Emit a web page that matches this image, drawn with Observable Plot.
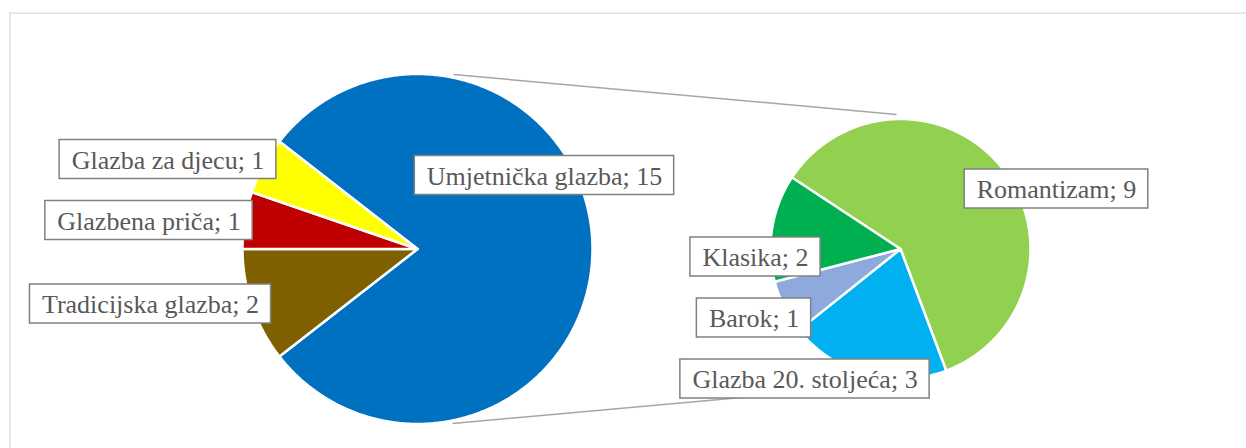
<!DOCTYPE html>
<html><head><meta charset="utf-8">
<script src="https://cdn.jsdelivr.net/npm/d3@7"></script>
<script src="https://cdn.jsdelivr.net/npm/@observablehq/plot@0.6"></script>
<style>
html,body{margin:0;padding:0;background:#fff;overflow:hidden}
#chart svg, #chart svg text { font-family: "Liberation Serif", "Times New Roman", Tinos, "DejaVu Serif", serif !important; }
</style>
</head><body><div id="chart"></div>
<script>
// ---- data ----
const mainCategories = ["Umjetnička glazba", "Tradicijska glazba", "Glazbena priča", "Glazba za djecu"];
const mainValues = [15, 2, 1, 1];
const subCategories = ["Romantizam", "Glazba 20. stoljeća", "Barok", "Klasika"];
const subValues = [9, 3, 1, 2];

// ---- styles ----
const mainColors = ["#0070C0", "#7F6000", "#C00000", "#FFFF00"];
const subColors = ["#92D050", "#00B0F0", "#8EA9DB", "#00B050"];
const FONT = "\"Liberation Serif\", \"Times New Roman\", \"DejaVu Serif\", serif";
const FONT_SIZE = 26;

// ---- layout ----
const W = 1246, H = 448;
const mainPie = {cx: 417, cy: 248.5, r: 175};
const subPie = {cx: 900, cy: 248.5, r: 130, startDeg: 303.4};
// "other" group (everything but the first category) is centred on the 9 o'clock direction
const mainTotal = d3.sum(mainValues);
const otherShare = (mainTotal - mainValues[0]) / mainTotal;
mainPie.startDeg = 270 + otherShare * 180;

// label centres (Excel places these manually)
const mainLabelPos = [[544, 175], [150, 303.5], [148.5, 220], [167.5, 159]];
const subLabelPos = [[1056, 188.5], [804.5, 378.5], [753.5, 317.5], [755, 256.5]];
const connectors = [
  {x1: 453, y1: 74, x2: 896, y2: 114},
  {x1: 452, y1: 423, x2: 896, y2: 383}
];

const rad = d => d * Math.PI / 180;

function slices(cats, vals, colors, pie) {
  const arcs = d3.pie().sort(null).value(d => d.value)
    .startAngle(rad(pie.startDeg)).endAngle(rad(pie.startDeg + 360))(
      cats.map((c, i) => ({key: c, value: vals[i], color: colors[i]})));
  return arcs.map(a => {
    const n = Math.max(2, Math.ceil((a.endAngle - a.startAngle) / rad(0.5)));
    const pts = [{x: pie.cx, y: pie.cy}];
    for (let k = 0; k <= n; k++) {
      const t = a.startAngle + (a.endAngle - a.startAngle) * k / n;
      pts.push({x: pie.cx + pie.r * Math.sin(t), y: pie.cy - pie.r * Math.cos(t)});
    }
    pts.push({x: pie.cx, y: pie.cy});
    return {key: a.data.key, color: a.data.color, points: pts};
  });
}

const mainSlices = slices(mainCategories, mainValues, mainColors, mainPie);
const subSlices = slices(subCategories, subValues, subColors, subPie);

const ctx = document.createElement("canvas").getContext("2d");
ctx.font = `${FONT_SIZE}px ${FONT}`;
const PAD = 12, BOX_H = 39;
function labels(cats, vals, pos) {
  return cats.map((c, i) => {
    const text = `${c}; ${vals[i]}`;
    const w = ctx.measureText(text).width;
    const [cx, cy] = pos[i];
    return {text, cx, cy, x1: cx - w / 2 - PAD, x2: cx + w / 2 + PAD, y1: cy - BOX_H / 2, y2: cy + BOX_H / 2};
  });
}
const allLabels = [...labels(mainCategories, mainValues, mainLabelPos), ...labels(subCategories, subValues, subLabelPos)];

const chart = Plot.plot({
  width: W, height: H, margin: 0,
  style: {fontFamily: FONT, background: "white"},
  x: {type: "identity", axis: null},
  y: {type: "identity", axis: null},
  marks: [
    Plot.ruleX([9.5], {y1: 12, y2: H, stroke: "#d9d9d9", strokeWidth: 1.25}),
    Plot.ruleY([12.5], {x1: 9, x2: W, stroke: "#d9d9d9", strokeWidth: 1.25}),
    Plot.link(connectors, {x1: "x1", y1: "y1", x2: "x2", y2: "y2", stroke: "#a6a6a6", strokeWidth: 1.5}),
    ...[...mainSlices, ...subSlices].map(s => Plot.line(s.points, {
      x: "x", y: "y", fill: s.color, stroke: "white", strokeWidth: 2.5,
      strokeLinejoin: "round", strokeLinecap: "round"
    })),
    Plot.rect(allLabels, {x1: "x1", x2: "x2", y1: "y1", y2: "y2", fill: "white", stroke: "#808080", strokeWidth: 1.5}),
    Plot.text(allLabels, {x: "cx", y: "cy", text: "text", fontSize: FONT_SIZE, fill: "#595959", dy: 1})
  ]
});
document.getElementById("chart").append(chart);
</script>
</body></html>
